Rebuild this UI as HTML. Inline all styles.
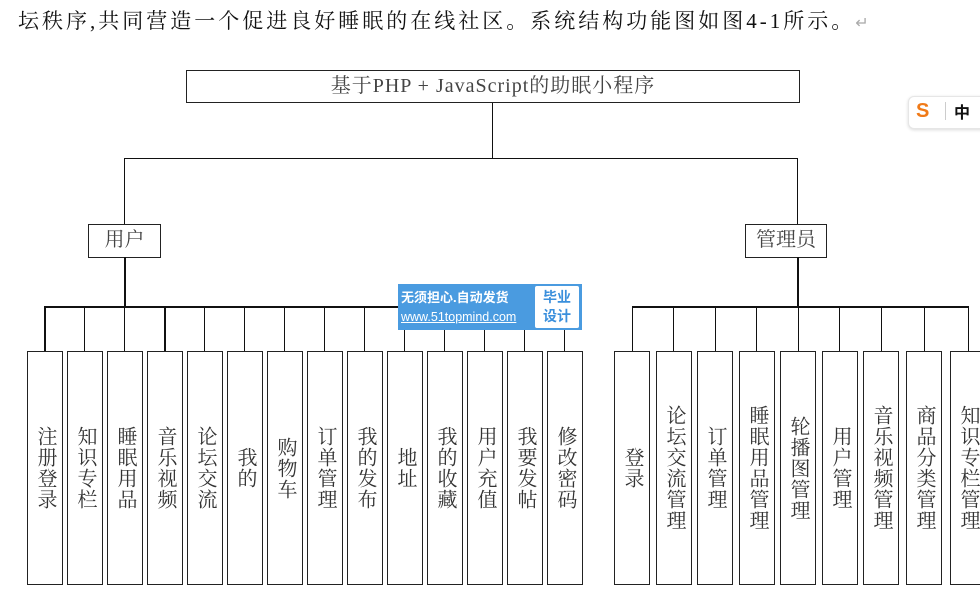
<!DOCTYPE html>
<html><head><meta charset="utf-8"><style>
body{margin:0;background:#fff;width:980px;height:615px;position:relative;overflow:hidden;font-family:"Liberation Serif","Noto Serif CJK SC",serif;color:#222}
.a{position:absolute}
.l{position:absolute;background:#111}
.b{position:absolute;border:1px solid #222;box-sizing:border-box;background:#fff}
.v{position:absolute;border:1px solid #222;box-sizing:border-box;background:#fff;display:flex;align-items:center;justify-content:center;top:351px;height:234px;width:36px}
.v span{writing-mode:vertical-rl;font-size:20px;line-height:20px;letter-spacing:1px;color:#333}
</style></head><body>
<div class="a" style="left:18px;top:6px;font-size:21px;line-height:30px;letter-spacing:3px;white-space:nowrap;color:#111">坛秩序,共同营造一个促进良好睡眠的在线社区。系统结构功能图如图4-1所示。<span style="color:#aaa;font-size:16px;letter-spacing:0">↵</span></div>

<div class="b" style="left:186px;top:70px;width:614px;height:33px;text-align:center;font-size:20px;letter-spacing:1px;line-height:30px;color:#444">基于PHP + JavaScript的助眠小程序</div>
<div class="l" style="left:492px;top:103px;width:1px;height:56px"></div>
<div class="l" style="left:124px;top:158px;width:674px;height:1px"></div>
<div class="l" style="left:124px;top:158px;width:1px;height:67px"></div>
<div class="l" style="left:797px;top:158px;width:1px;height:67px"></div>

<div class="b" style="left:88px;top:224px;width:73px;height:34px;text-align:center;font-size:20px;line-height:31px;color:#444">用户</div>
<div class="b" style="left:745px;top:224px;width:82px;height:34px;text-align:center;font-size:20px;line-height:31px;color:#444">管理员</div>

<div class="l" style="left:124px;top:257px;width:2px;height:50px"></div>
<div class="l" style="left:44px;top:306px;width:536px;height:2px"></div>
<div class="l" style="left:797px;top:257px;width:2px;height:50px"></div>
<div class="l" style="left:632px;top:306px;width:337px;height:2px"></div>

<div class="l" style="left:44px;top:307px;width:2px;height:44px"></div>
<div class="l" style="left:84px;top:307px;width:1px;height:44px"></div>
<div class="l" style="left:124px;top:307px;width:1px;height:44px"></div>
<div class="l" style="left:164px;top:307px;width:2px;height:44px"></div>
<div class="l" style="left:204px;top:307px;width:1px;height:44px"></div>
<div class="l" style="left:244px;top:307px;width:1px;height:44px"></div>
<div class="l" style="left:284px;top:307px;width:1px;height:44px"></div>
<div class="l" style="left:324px;top:307px;width:1px;height:44px"></div>
<div class="l" style="left:364px;top:307px;width:1px;height:44px"></div>
<div class="l" style="left:404px;top:307px;width:1px;height:44px"></div>
<div class="l" style="left:444px;top:307px;width:1px;height:44px"></div>
<div class="l" style="left:484px;top:307px;width:1px;height:44px"></div>
<div class="l" style="left:524px;top:307px;width:1px;height:44px"></div>
<div class="l" style="left:564px;top:307px;width:1px;height:44px"></div>

<div class="v" style="left:27px"><span>注册登录</span></div>
<div class="v" style="left:67px"><span>知识专栏</span></div>
<div class="v" style="left:107px"><span>睡眠用品</span></div>
<div class="v" style="left:147px"><span>音乐视频</span></div>
<div class="v" style="left:187px"><span>论坛交流</span></div>
<div class="v" style="left:227px"><span>我的</span></div>
<div class="v" style="left:267px"><span>购物车</span></div>
<div class="v" style="left:307px"><span>订单管理</span></div>
<div class="v" style="left:347px"><span>我的发布</span></div>
<div class="v" style="left:387px"><span>地址</span></div>
<div class="v" style="left:427px"><span>我的收藏</span></div>
<div class="v" style="left:467px"><span>用户充值</span></div>
<div class="v" style="left:507px"><span>我要发帖</span></div>
<div class="v" style="left:547px"><span>修改密码</span></div>

<div class="l" style="left:632px;top:307px;width:1px;height:44px"></div>
<div class="l" style="left:673px;top:307px;width:1px;height:44px"></div>
<div class="l" style="left:715px;top:307px;width:1px;height:44px"></div>
<div class="l" style="left:756px;top:307px;width:1px;height:44px"></div>
<div class="l" style="left:798px;top:307px;width:1px;height:44px"></div>
<div class="l" style="left:839px;top:307px;width:1px;height:44px"></div>
<div class="l" style="left:881px;top:307px;width:1px;height:44px"></div>
<div class="l" style="left:924px;top:307px;width:1px;height:44px"></div>
<div class="l" style="left:968px;top:307px;width:1px;height:44px"></div>

<div class="v" style="left:614px"><span>登录</span></div>
<div class="v" style="left:656px"><span>论坛交流管理</span></div>
<div class="v" style="left:697px"><span>订单管理</span></div>
<div class="v" style="left:739px"><span>睡眠用品管理</span></div>
<div class="v" style="left:780px"><span>轮播图管理</span></div>
<div class="v" style="left:822px"><span>用户管理</span></div>
<div class="v" style="left:863px"><span>音乐视频管理</span></div>
<div class="v" style="left:906px"><span>商品分类管理</span></div>
<div class="v" style="left:950px"><span>知识专栏管理</span></div>

<div class="a" style="left:398px;top:284px;width:184px;height:46px;background:#4a9be0"></div>
<div class="a" style="left:401px;top:288px;width:134px;font-family:'Liberation Sans','Noto Sans CJK SC',sans-serif;color:#fff;font-size:13px;font-weight:bold;line-height:19px;white-space:nowrap">无须担心.自动发货<br><span style="font-weight:normal;font-size:12.5px;text-decoration:underline">www.51topmind.com</span></div>
<div class="a" style="left:535px;top:286px;width:44px;height:42px;background:#fff;border-radius:2px;color:#3a8fdc;font-family:'Liberation Sans','Noto Sans CJK SC',sans-serif;font-size:14px;line-height:19px;text-align:center;font-weight:bold;padding-top:2px;box-sizing:border-box">毕业<br>设计</div>

<div class="a" style="left:908px;top:96px;width:80px;height:31px;background:#fff;border:1px solid #e6e6e6;border-radius:6px;box-shadow:0 1px 3px rgba(0,0,0,.15)"></div>
<div class="a" style="left:916px;top:99px;font-family:'Liberation Sans',sans-serif;font-weight:bold;color:#f07a18;font-size:20px;line-height:24px">S</div>
<div class="a" style="left:945px;top:102px;width:1px;height:18px;background:#ccc"></div>
<div class="a" style="left:954px;top:100px;font-family:'Noto Sans CJK SC',sans-serif;font-weight:bold;font-size:16px;line-height:22px;color:#111">中</div>
</body></html>
